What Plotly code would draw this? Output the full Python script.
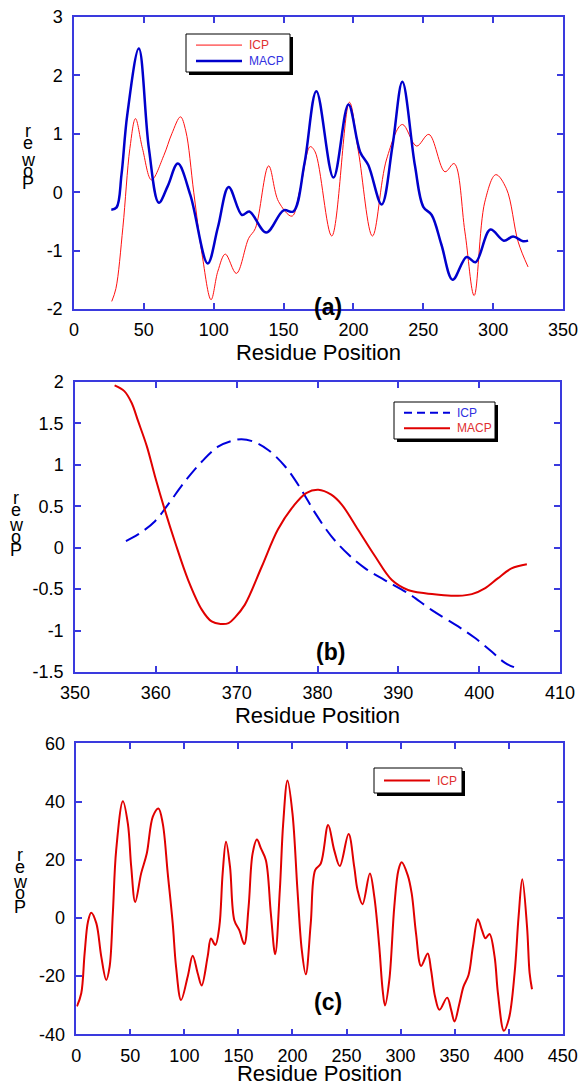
import plotly.graph_objects as go

# ---------------- Panel (a) ----------------
a_icp_x = [27, 30, 35, 40, 44, 49, 55.5, 64.3, 70, 76.2, 80, 85.7, 91.7, 98.1, 103, 108.3, 116.2, 125, 129.8, 139.3,
           146.4, 156, 161.9, 169, 172.6, 184.5, 197.1, 203.6, 213.6, 223.8, 235, 245.2, 254, 265.5, 272.1, 279.8,
           286.4, 294, 301.9, 309.5, 317.9, 325]
a_icp_y = [-1.87, -1.65, -0.6, 0.75, 1.26, 0.75, 0.21, 0.63, 1.0, 1.29, 1.05, 0.0, -1.07, -1.84, -1.35, -1.06, -1.39,
           -0.79, -0.62, 0.45, -0.16, -0.41, 0.06, 0.78, 0.69, -0.75, 1.54, 0.69, -0.75, 0.57, 1.16, 0.79, 0.99, 0.35,
           0.49, -0.68, -1.77, -0.17, 0.30, 0.06, -0.85, -1.28]

a_macp_x = [26.7, 30.5, 34, 38.1, 46.4, 53.6, 60.7, 67, 74.3, 83.3, 95.7, 103, 110.7, 120.2, 125.5, 137.6, 150, 157,
            165, 173.5, 185.7, 196.4, 204.8, 210.7, 220.2, 228, 235, 244, 250, 256, 263, 271, 281, 287.4, 298,
            307.6, 314.3, 321.4, 325]
a_macp_y = [-0.30, -0.26, 0.3, 1.32, 2.46, 0.75, -0.18, 0.1, 0.49, -0.05, -1.22, -0.6, 0.09, -0.39, -0.33, -0.69,
            -0.31, -0.33, 0.5, 1.73, 0.25, 1.50, 0.69, 0.46, -0.21, 0.8, 1.89, 0.46, -0.25, -0.39, -0.9, -1.50, -1.11,
            -1.20, -0.64, -0.83, -0.76, -0.84, -0.83]

# ---------------- Panel (b) ----------------
b_icp_x = [356.3, 357.8, 359.9, 361.5, 363.6, 365.7, 367.7, 369.4, 370.6, 372.1, 373.9, 376.0, 378.0, 379.7, 381.7,
           383.8, 385.9, 388.3, 391.2, 394.1, 397.4, 399.5, 401.5, 403.2, 404.8]
b_icp_y = [0.08, 0.16, 0.32, 0.52, 0.80, 1.04, 1.22, 1.29, 1.31, 1.28, 1.18, 0.98, 0.70, 0.42, 0.14, -0.08, -0.25,
           -0.39, -0.55, -0.75, -0.95, -1.09, -1.25, -1.39, -1.46]

b_macp_x = [354.9, 356.1, 357.0, 357.8, 358.9, 359.9, 361.1, 362.4, 364.0, 365.7, 366.9, 368.0, 369.0, 369.8, 371.0,
            373.1, 375.1, 377.0, 378.6, 380.1, 381.7, 383.0, 385.0, 387.1, 389.2, 391.2, 393.3, 395.3, 397.4, 399.1,
            400.7, 402.3, 404.0, 405.9]
b_macp_y = [1.96, 1.89, 1.75, 1.53, 1.22, 0.86, 0.46, 0.06, -0.39, -0.75, -0.89, -0.92, -0.91, -0.84, -0.69, -0.23,
            0.22, 0.50, 0.66, 0.70, 0.64, 0.52, 0.22, -0.10, -0.39, -0.51, -0.55, -0.57, -0.58, -0.56, -0.49, -0.37,
            -0.25, -0.20]

# ---------------- Panel (c) ----------------
c_icp_x = [0.6, 4.6, 7.7, 10.8, 13.8, 18.5, 23.1, 27.7, 30.8, 33.8, 36.9, 43.1, 47.7, 50.8, 54.5, 60, 65.2, 70.8, 76,
           80, 84.6, 89.2, 92.3, 96.9, 103.1, 107.7, 112.3, 116, 121.5, 124.6, 128.6, 132.3, 135.4, 138.5, 142.2,
           146.2, 150.8, 155.4, 159.4, 163.1, 167.1, 170.8, 175.4, 180, 184, 188.3, 191.4, 195.4, 200, 204.6, 208.6,
           212.3, 216.9, 221, 226.2, 233, 238.6, 243.8, 251.9, 257.1, 260.2, 264.8, 271.6, 275.7, 280.3, 283.4,
           285.6, 289.6, 294.2, 298, 301, 306.6, 310.3, 314.3, 319, 325.1, 328.2, 331.9, 336, 343.1, 346.8, 349.9,
           354.5, 358.2, 362.9, 366.9, 371.5, 375.2, 378.6, 382.3, 387, 390.1, 395.6, 400.3, 405.5, 409.2, 412.6,
           417, 419.4, 421.6]
c_icp_y = [-30.4, -25.9, -12.2, -1.3, 1.8, -1.8, -13.3, -21.3, -16.8, 1.5, 23.3, 40.1, 32.4, 17.6, 5.5, 15.3, 22.1,
           34.8, 37.6, 32.4, 15.3, -1.9, -16.8, -28.2, -20.1, -13.0, -19.0, -23.2, -13.3, -7.1, -9.3, -3.1, 15.3,
           26.2, 17.6, -0.8, -4.2, -9.0, 3.8, 22.1, 26.9, 23.9, 19.8, 1.5, -12.5, 9.6, 32.4, 47.2, 35.9, 9.6, -11.0,
           -19.4, -1.9, 16.4, 18.7, 31.9, 23.3, 17.8, 28.8, 17.6, 9.6, 4.7, 15.3, 7.3, -9.9, -24.7, -30.1, -21.3, 3.9,
           16.4, 19.1, 14.7, 8.4, -5.3, -16.5, -12.2, -17.9, -27.0, -31.6, -27.4, -31.6, -35.6, -29.3, -23.6, -19.6,
           -9.9, -0.5, -4.1, -7.0, -5.5, -13.3, -25.9, -38.8, -34.5, -19.0, 0.5, 13.3, -3.0, -19.0, -24.5]

x_ticks_a = [0, 50, 100, 150, 200, 250, 300, 350]
y_ticks_a = [-2, -1, 0, 1, 2, 3]
y_tick_text_a = ["-2", "-1", "0", "1", "2", "3"]
x_ticks_b = [350, 360, 370, 380, 390, 400, 410]
y_ticks_b = [-1.5, -1, -0.5, 0, 0.5, 1, 1.5, 2]
y_tick_text_b = ["-1.5", "-1", "-0.5", "0", "0.5", "1", "1.5", "2"]
x_ticks_c = [0, 50, 100, 150, 200, 250, 300, 350, 400, 450]
y_ticks_c = [-40, -20, 0, 20, 40, 60]
y_tick_text_c = ["-40", "-20", "0", "20", "40", "60"]

W, H = 583, 1086
RED = "#e00000"
BLUE = "#0000cc"
AX = "#3a3ade"
FONT = "Liberation Sans, Arial, Helvetica, sans-serif"


def px(x):
    return x / W


def py(y):
    return 1 - y / H


fig = go.Figure()
fig.add_trace(go.Scatter(x=a_icp_x, y=a_icp_y, mode="lines", line=dict(color="#ff1010", width=1, shape="spline"),
                         name="ICP", xaxis="x", yaxis="y"))
fig.add_trace(go.Scatter(x=a_macp_x, y=a_macp_y, mode="lines", line=dict(color=BLUE, width=2.5, shape="spline"),
                         name="MACP", xaxis="x", yaxis="y"))
fig.add_trace(go.Scatter(x=b_icp_x, y=b_icp_y, mode="lines",
                         line=dict(color="#0000dd", width=2, shape="spline", dash="15px,7px"),
                         name="ICP", xaxis="x2", yaxis="y2"))
fig.add_trace(go.Scatter(x=b_macp_x, y=b_macp_y, mode="lines", line=dict(color=RED, width=2, shape="spline"),
                         name="MACP", xaxis="x2", yaxis="y2"))
fig.add_trace(go.Scatter(x=c_icp_x, y=c_icp_y, mode="lines", line=dict(color=RED, width=2, shape="spline"),
                         name="ICP", xaxis="x3", yaxis="y3"))

axis_common = dict(showline=True, linecolor=AX, linewidth=1.5, mirror="ticks", ticks="inside", ticklen=6,
                   tickcolor=AX, tickwidth=1.5, showgrid=False, zeroline=False, automargin=False,
                   ticklabeloverflow="allow", tickfont=dict(family=FONT, size=18, color="black"))

dom = {
    "a": dict(x=[px(74), px(563)], y=[py(309), py(17)]),
    "b": dict(x=[px(75), px(560)], y=[py(672), py(382)]),
    "c": dict(x=[px(76.3), px(562.7)], y=[py(1034.3), py(743.3)]),
}
title_font = dict(family=FONT, size=22, color="black")

fig.update_layout(
    width=W, height=H, margin=dict(l=0, r=0, t=0, b=0, autoexpand=False),
    paper_bgcolor="white", plot_bgcolor="white", showlegend=False,
    xaxis=dict(axis_common, domain=dom["a"]["x"], anchor="y", range=[0, 350], tickvals=x_ticks_a,
               title=dict(text="Residue Position", font=title_font, standoff=2), ticklabelstandoff=4),
    yaxis=dict(axis_common, domain=dom["a"]["y"], anchor="x", range=[-2, 3], tickvals=y_ticks_a,
               ticktext=y_tick_text_a, ticklabelstandoff=6),
    xaxis2=dict(axis_common, domain=dom["b"]["x"], anchor="y2", range=[350, 410], tickvals=x_ticks_b,
                title=dict(text="Residue Position", font=title_font, standoff=2), ticklabelstandoff=4),
    yaxis2=dict(axis_common, domain=dom["b"]["y"], anchor="x2", range=[-1.5, 2], tickvals=y_ticks_b,
                ticktext=y_tick_text_b, ticklabelstandoff=6),
    xaxis3=dict(axis_common, domain=dom["c"]["x"], anchor="y3", range=[0, 450], tickvals=x_ticks_c,
                title=dict(text="Residue Position", font=title_font, standoff=2), ticklabelstandoff=4),
    yaxis3=dict(axis_common, domain=dom["c"]["y"], anchor="x3", range=[-40, 60], tickvals=y_ticks_c,
                ticktext=y_tick_text_c, ticklabelstandoff=6),
)

# legend boxes drawn as decorations (box with drop shadow, line sample, coloured label)
legends = [
    ((186, 34, 290, 72), [("ICP", "#e03030", "#ff1010", 1, "solid"), ("MACP", "#3030e0", BLUE, 2.5, "solid")]),
    ((394, 402, 495, 439), [("ICP", "#3030e0", "#0000dd", 2, "8px,5px"), ("MACP", "#e03030", RED, 2, "solid")]),
    ((374, 768, 462, 793), [("ICP", "#e03030", RED, 2, "solid")]),
]
for (l, t, r, b), items in legends:
    fig.add_shape(type="rect", xref="paper", yref="paper", x0=px(l + 3), x1=px(r + 3), y0=py(b + 3), y1=py(t + 3),
                  fillcolor="black", line=dict(width=0), layer="above")
    fig.add_shape(type="rect", xref="paper", yref="paper", x0=px(l), x1=px(r), y0=py(b), y1=py(t),
                  fillcolor="white", line=dict(color="black", width=1), layer="above")
    n = len(items)
    step = (b - t) / (n + 0.4)
    for i, (lab, tc, lc, lw, dash) in enumerate(items):
        yc = t + step * (0.7 + i)
        fig.add_shape(type="line", xref="paper", yref="paper", x0=px(l + 10), x1=px(l + 56), y0=py(yc), y1=py(yc),
                      line=dict(color=lc, width=lw, dash=dash), layer="above")
        fig.add_annotation(x=px(l + 61), y=py(yc), xref="paper", yref="paper", text=lab, showarrow=False,
                           xanchor="left", yanchor="middle", font=dict(family=FONT, size=12, color=tc))

# panel labels
for txt, (xp, yp) in [("(a)", (328, 292)), ("(b)", (330, 652)), ("(c)", (328, 1017))]:
    fig.add_annotation(x=px(xp), y=py(yp), xref="paper", yref="paper", text="<b>" + txt + "</b>",
                       showarrow=False, font=dict(family=FONT, size=23, color="black"))

# stacked "Power" y-axis labels
letters = ["r", "e", "w", "o", "P"]
for xc, ys in [(28, [131, 143, 160, 171, 183]), (16, [498, 510, 525, 537, 550]), (20, [855, 867, 882, 893, 907])]:
    for ch, yc in zip(letters, ys):
        fig.add_annotation(x=px(xc), y=py(yc), xref="paper", yref="paper", text=ch, showarrow=False,
                           font=dict(family=FONT, size=18, color="black"), xanchor="center", yanchor="middle")

# remove the page's default 8px body margin so the figure fills the window exactly
fig.write_html("out.html", config={"displayModeBar": False},
               post_script="document.body.style.margin='0';document.body.style.overflow='hidden';")
